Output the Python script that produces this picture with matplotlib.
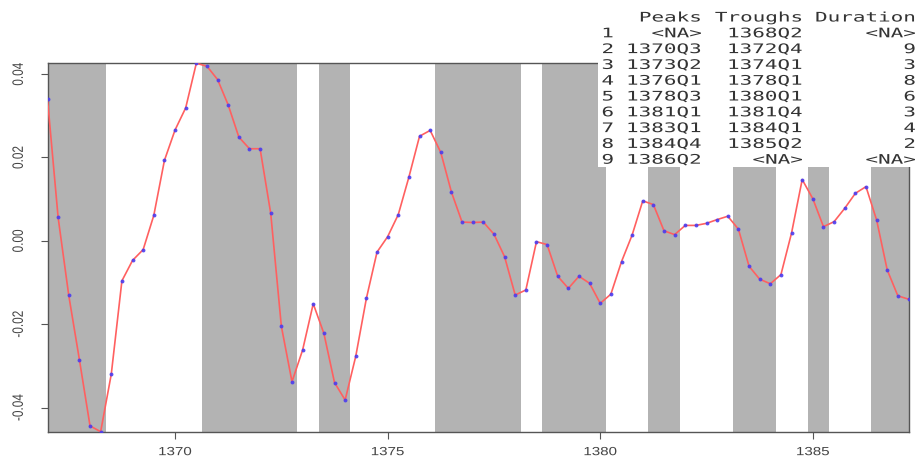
import matplotlib
matplotlib.use("Agg")
import matplotlib.pyplot as plt
import matplotlib.patheffects as pe
from matplotlib.transforms import Affine2D
from matplotlib.patches import Rectangle
import numpy as np

# ---------------- data ----------------
start_year = 1367
start_quarter = 1
values = [
    0.0340, 0.0056, -0.0131, -0.0285, -0.0444, -0.0458, -0.0320, -0.0096,
    -0.0047, -0.0021, 0.0061, 0.0193, 0.0266, 0.0319, 0.0426, 0.0419,
    0.0387, 0.0326, 0.0249, 0.0221, 0.0221, 0.0066, -0.0205, -0.0338,
    -0.0262, -0.0151, -0.0222, -0.0340, -0.0382, -0.0277, -0.0138, -0.0027,
    0.0010, 0.0063, 0.0153, 0.0251, 0.0265, 0.0212, 0.0117, 0.0045,
    0.0044, 0.0045, 0.0016, -0.0038, -0.0130, -0.0118, -0.0002, -0.0009,
    -0.0085, -0.0114, -0.0085, -0.0102, -0.0150, -0.0128, -0.0050, 0.0014,
    0.0096, 0.0087, 0.0024, 0.0015, 0.0037, 0.0037, 0.0042, 0.0051,
    0.0059, 0.0028, -0.0061, -0.0092, -0.0103, -0.0081, 0.0019, 0.0147,
    0.0101, 0.0034, 0.0046, 0.0078, 0.0114, 0.0130, 0.0050, -0.0070,
    -0.0132, -0.0140,
]
peaks = [None, "1370Q3", "1373Q2", "1376Q1", "1378Q3", "1381Q1", "1383Q1", "1384Q4", "1386Q2"]
troughs = ["1368Q2", "1372Q4", "1374Q1", "1378Q1", "1380Q1", "1381Q4", "1384Q1", "1385Q2", None]
durations = [None, 9, 3, 8, 6, 3, 4, 2, None]
table_header = ["Peaks", "Troughs", "Duration"]
xticks = [1370, 1375, 1380, 1385]
xtick_labels = ["1370", "1375", "1380", "1385"]
yticks = [-0.04, -0.02, 0.0, 0.02, 0.04]
ytick_labels = ["-0.04", "-0.02", "0.00", "0.02", "0.04"]


def q2t(s):
    y, q = s.split("Q")
    return int(y) + (int(q) - 1) / 4.0


class Stretch(pe.AbstractPathEffect):
    """Stretch glyph outlines about their ink centre (text stays real text)."""

    def __init__(self, sx=1.0, sy=1.0):
        super().__init__()
        self.sx, self.sy = sx, sy

    def draw_path(self, renderer, gc, tpath, affine, rgbFace=None):
        ext = tpath.get_extents()
        cx = (ext.x0 + ext.x1) / 2.0
        cy = (ext.y0 + ext.y1) / 2.0
        t = Affine2D().translate(-cx, -cy).scale(self.sx, self.sy).translate(cx, cy)
        renderer.draw_path(gc, tpath, t + affine, rgbFace)


W, H = 919, 461
fig = plt.figure(figsize=(W / 100, H / 100), dpi=100)
fig.patch.set_facecolor("white")

L, R, T, B = 47.5, 908.5, 63.3, 431.7
ax = fig.add_axes([L / W, 1 - B / H, (R - L) / W, (B - T) / H])

times = start_year + (start_quarter - 1) / 4.0 + np.arange(len(values)) / 4.0
vals = np.array(values)
t0, t1 = times[0], times[-1]
half_q = 0.125

# recession shading: peak -> trough
for p, tr in zip(peaks, troughs):
    a = t0 if p is None else q2t(p) + half_q
    b = t1 if tr is None else q2t(tr) + half_q
    ax.axvspan(a, b, color="#b3b3b3", lw=0, zorder=1)

ax.plot(times, vals, color="#ff6060", lw=1.2, zorder=3)
ax.plot(times, vals, ls="none", marker="o", ms=2.8, mfc="#4a3cf0", mec="none",
        alpha=0.9, zorder=4)

ax.set_xlim(t0, t1)
ax.set_ylim(vals.min(), vals.max())

ax.set_xticks(xticks)
ax.set_xticklabels(xtick_labels)
ax.set_yticks(yticks)
ax.set_yticklabels(ytick_labels, rotation=90, va="center")

for s in ax.spines.values():
    s.set_color("#555555")
    s.set_linewidth(1.0)
ax.tick_params(axis="both", direction="out", length=5.0, width=0.8, color="#555555",
               labelcolor="#444444")
ax.tick_params(axis="x", pad=5.4)
ax.tick_params(axis="y", pad=11.4)
for lbl in ax.get_xticklabels():
    lbl.set_fontfamily("Liberation Sans")
    lbl.set_fontsize(8.5)
    lbl.set_path_effects([Stretch(1.28, 1.0)])
for lbl in ax.get_yticklabels():
    lbl.set_fontfamily("Liberation Sans")
    lbl.set_fontsize(8.5)
    lbl.set_path_effects([Stretch(1.0, 1.28)])

# ---------------- table overlay ----------------
box = Rectangle((598 / W, 1 - 167 / H), (W - 598) / W, 167 / H,
                transform=fig.transFigure, facecolor="white", edgecolor="none", zorder=10)
fig.add_artist(box)

adv = 12.6           # character advance in pixels
col_right = [702.0, 803.0, 916.0]
row_left = 601.5
base0, dy = 21.5, 15.8
tfont = dict(family="DejaVu Sans Mono", size=9.5, color="#333333", ha="center",
             va="baseline", zorder=11)
stretch = [Stretch(1.587, 1.0)]


def put(text, right_px, base_px):
    n = len(text)
    cx = right_px - n * adv / 2.0
    t = fig.text(cx / W, 1 - base_px / H, text, **tfont)
    t.set_path_effects(stretch)


for h, r in zip(table_header, col_right):
    put(h, r, base0)

for i in range(len(peaks)):
    y = base0 + dy * (i + 1)
    lab = str(i + 1)
    put(lab, row_left + len(lab) * adv, y)
    cells = [peaks[i] if peaks[i] is not None else "<NA>",
             troughs[i] if troughs[i] is not None else "<NA>",
             str(durations[i]) if durations[i] is not None else "<NA>"]
    for c, r in zip(cells, col_right):
        put(c, r, y)

fig.savefig("out.png", dpi=100, facecolor="white")
